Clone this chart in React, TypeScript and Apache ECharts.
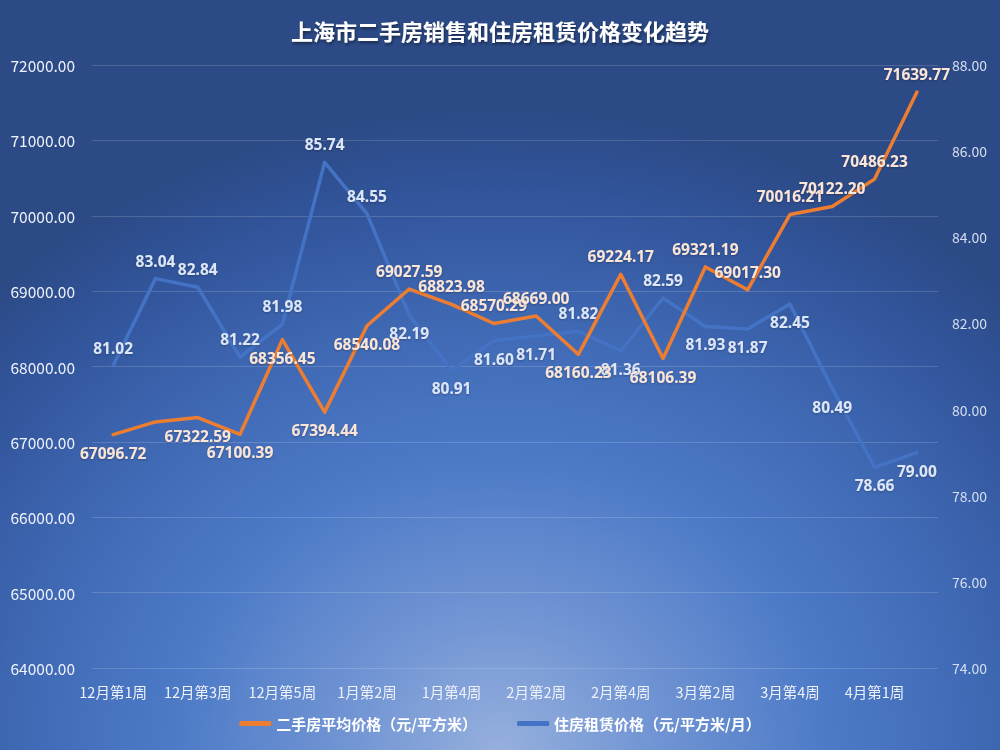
import React, { useEffect, useRef } from "react";
import * as echarts from "echarts";

const categories = [
  "12月第1周", "12月第2周", "12月第3周", "12月第4周", "12月第5周",
  "1月第1周", "1月第2周", "1月第3周", "1月第4周",
  "2月第1周", "2月第2周", "2月第3周", "2月第4周",
  "3月第1周", "3月第2周", "3月第3周", "3月第4周", "3月第5周",
  "4月第1周", "4月第2周",
];

const salePrice = [
  67096.72, 67265.0, 67322.59, 67100.39, 68356.45, 67394.44, 68540.08,
  69027.59, 68823.98, 68570.29, 68669.0, 68160.23, 69224.17, 68106.39,
  69321.19, 69017.3, 70016.21, 70122.2, 70486.23, 71639.77,
];

const rentPrice = [
  81.02, 83.04, 82.84, 81.22, 81.98, 85.74, 84.55, 82.19, 80.91, 81.6,
  81.71, 81.82, 81.36, 82.59, 81.93, 81.87, 82.45, 80.49, 78.66, 79.0,
];

const saleLabelPos = [
  "bottom", "none", "bottom", "bottom", "bottom", "bottom", "bottom",
  "top", "top", "top", "top", "bottom", "top", "bottom",
  "top", "top", "top", "top", "top", "top",
];

const rentLabelPos = [
  "top", "top", "top", "top", "top", "top", "top",
  "bottom", "bottom", "bottom", "bottom", "top", "bottom", "top",
  "bottom", "bottom", "bottom", "bottom", "bottom", "bottom",
];

const leftTicks = { min: 64000, max: 72000, interval: 1000 };
const rightTicks = { min: 74, max: 88, interval: 2 };

const seriesNames = ["二手房平均价格（元/平方米）", "住房租赁价格（元/平方米/月）"];
const titleText = "上海市二手房销售和住房租赁价格变化趋势";

export default function App() {
  const ref = useRef<HTMLDivElement>(null);

  useEffect(() => {
    if (!ref.current) return;
    const chart = echarts.init(ref.current, null, { renderer: "svg" });
    const font = "'Noto Sans CJK SC', 'Noto Sans', sans-serif";
    const labelFont = "'Noto Sans', 'Open Sans', sans-serif";

    const mkData = (vals: number[], pos: string[], color: string) =>
      vals.map((v, i) => ({
        value: v,
        label:
          pos[i] === "none"
            ? { show: false }
            : {
                show: true,
                position: pos[i],
                distance: 10,
                color,
                fontSize: 15.5,
                fontWeight: "bold",
                fontFamily: labelFont,
                formatter: (p: any) => Number(p.value).toFixed(2),
                textShadowColor: "rgba(0,0,0,0.25)",
                textShadowBlur: 2,
                textShadowOffsetY: 1,
              },
      }));

    chart.setOption({
      animation: false,
      backgroundColor: "transparent",
      title: {
        text: titleText,
        left: "center",
        top: 14,
        textStyle: {
          color: "#ffffff",
          fontSize: 22,
          fontWeight: "bold",
          fontFamily: font,
          textShadowColor: "rgba(0,0,0,0.45)",
          textShadowBlur: 3,
          textShadowOffsetX: 1,
          textShadowOffsetY: 2,
        },
      },
      legend: {
        bottom: 14,
        left: "center",
        itemWidth: 32,
        itemHeight: 5,
        itemGap: 40,
        icon: "roundRect",
        textStyle: {
          color: "#ffffff",
          fontSize: 15,
          fontWeight: "bold",
          fontFamily: font,
        },
        data: seriesNames,
      },
      grid: { left: 92, right: 62, top: 65, bottom: 82 },
      xAxis: {
        type: "category",
        data: categories,
        boundaryGap: true,
        axisLine: { show: false },
        axisTick: { show: false },
        axisLabel: {
          interval: 1,
          color: "#eef2fa",
          fontSize: 14.5,
          fontFamily: font,
          margin: 16,
        },
      },
      yAxis: [
        {
          type: "value",
          ...leftTicks,
          axisLine: { show: false },
          axisTick: { show: false },
          splitLine: { lineStyle: { color: "rgba(255,255,255,0.16)", width: 1 } },
          axisLabel: {
            color: "#eef2fa",
            fontSize: 15.5,
            fontFamily: font,
            margin: 17,
            formatter: (v: number) => v.toFixed(2),
          },
        },
        {
          type: "value",
          ...rightTicks,
          axisLine: { show: false },
          axisTick: { show: false },
          splitLine: { show: false },
          axisLabel: {
            color: "#d6dff0",
            fontSize: 14,
            fontFamily: font,
            margin: 14,
            formatter: (v: number) => v.toFixed(2),
          },
        },
      ],
      series: [
        {
          name: seriesNames[0],
          type: "line",
          yAxisIndex: 0,
          symbol: "circle",
          symbolSize: 0.1,
          showSymbol: true,
          z: 3,
          itemStyle: { color: "#ED7D31" },
          lineStyle: { color: "#ED7D31", width: 3.5, cap: "round", join: "round" },
          data: mkData(salePrice, saleLabelPos, "#fbe5d6"),
        },
        {
          name: seriesNames[1],
          type: "line",
          yAxisIndex: 1,
          symbol: "circle",
          symbolSize: 0.1,
          showSymbol: true,
          z: 2,
          itemStyle: { color: "#4472C4" },
          lineStyle: { color: "#4472C4", width: 3.5, cap: "round", join: "round" },
          data: mkData(rentPrice, rentLabelPos, "#dde6f6"),
        },
      ],
    });
    return () => chart.dispose();
  }, []);

  return (
    <div
      style={{
        position: "fixed",
        left: 0,
        top: 0,
        width: 1000,
        height: 750,
        background:
          "radial-gradient(ellipse 72% 85% at 50% 100%, #96b0de 0%, #7396d4 20%, #4c7ac7 46%, #3f68b3 68%, #31549a 88%, #2c4a86 100%)",
      }}
    >
      <div ref={ref} style={{ width: 1000, height: 750 }} />
    </div>
  );
}
